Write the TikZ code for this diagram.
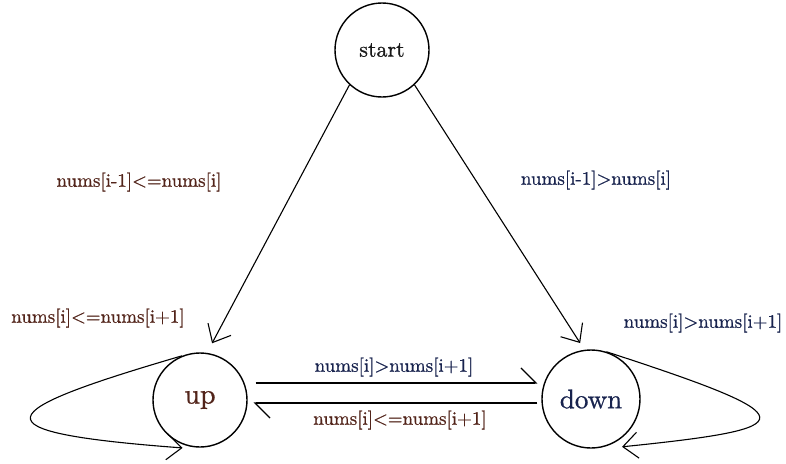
\documentclass[tikz,border=0pt]{standalone}
\usepackage{fontspec}
\usetikzlibrary{arrows.meta,calc}
% slightly emboldened Latin Modern for all labels
\newfontfamily\lblfont{lmroman10-regular.otf}[FakeBold=0.8]
\definecolor{rust}{HTML}{52241A}
\definecolor{navy}{HTML}{18234E}
\begin{document}
\begin{tikzpicture}[x=1pt,y=-1pt,
  state/.style={circle,draw,line width=1.4pt,inner sep=0pt},
  cond/.style={font=\lblfont\fontsize{19}{23}\selectfont},
  link/.style={line width=1.1pt},
  vee/.style={-{Straight Barb[length=15pt,width=26pt]}},
  harp/.style={-{Straight Barb[left,length=15pt,width=30pt]}}]
\useasboundingbox (0,0) rectangle (786,463);

% states
\node[state,minimum size=94pt,text=black!90] (start) at (382,50) {\lblfont\fontsize{22}{26}\selectfont start};
\node[state,minimum size=94pt,text=rust] (up) at (200,400) {\lblfont\fontsize{28}{32}\selectfont up};
\node[state,minimum size=98pt,text=navy] (down) at (591,399) {\lblfont\fontsize{27}{31}\selectfont down};

% transitions out of start
\draw[link,vee] (start.227) -- ($(up)+(78:58pt)$);
\draw[link,vee] (start.313) -- ($(down)+(101:57pt)$);

% transitions between up and down
\draw[link,harp] ([xshift=8pt,yshift=17pt]up.east) -- ([xshift=-4pt,yshift=16pt]down.west);
\draw[link,harp] ([xshift=-4pt,yshift=-4pt]down.west) -- ([xshift=6pt,yshift=-3pt]up.east);

% self loops
\draw[link,vee] (up.112) .. controls (-10,412) and (-30,432) .. ($(up)+(250:51pt)$);
\draw[link,vee] (down.72) .. controls (810,418) and (806,428) .. ($(down)+(-57:57pt)$);

% conditions
\node[cond,text=rust] (c1) at (139,182) {nums[i-1]<=nums[i]};
\node[cond,text=navy] (c2) at (596,180) {nums[i-1]>nums[i]};
\node[cond,text=rust] (c3) at (98,318) {nums[i]<=nums[i+1]};
\node[cond,text=navy] (c4) at (703,323) {nums[i]>nums[i+1]};
\node[cond,text=navy] (c5) at (394,367) {nums[i]>nums[i+1]};
\node[cond,text=rust] (c6) at (400,420) {nums[i]<=nums[i+1]};
\end{tikzpicture}
\end{document}
